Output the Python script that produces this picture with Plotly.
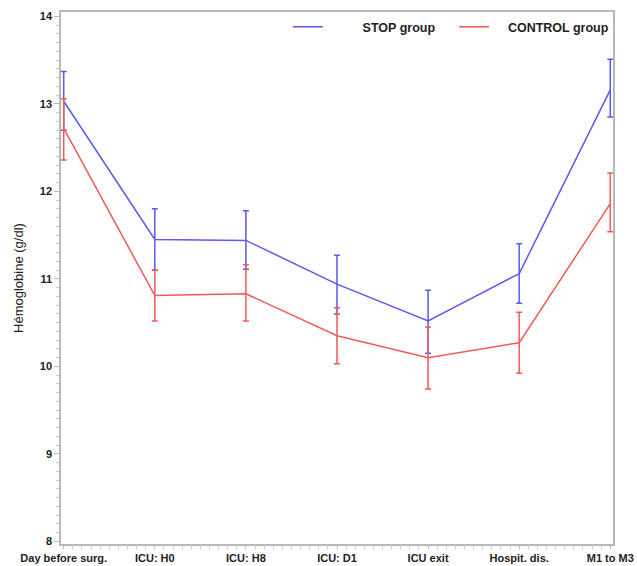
import plotly.graph_objects as go

categories = ["Day before surg.", "ICU: H0", "ICU: H8", "ICU: D1", "ICU exit", "Hospit. dis.", "M1 to M3"]
stop_mean = [13.03, 11.45, 11.44, 10.94, 10.52, 11.06, 13.16]
stop_upper = [13.37, 11.80, 11.78, 11.27, 10.87, 11.40, 13.51]
stop_lower = [12.70, 11.10, 11.11, 10.60, 10.15, 10.72, 12.85]
ctrl_mean = [12.72, 10.81, 10.83, 10.35, 10.10, 10.27, 11.86]
ctrl_upper = [13.06, 11.10, 11.16, 10.67, 10.45, 10.62, 12.21]
ctrl_lower = [12.36, 10.52, 10.52, 10.03, 9.74, 9.92, 11.54]

xpos = list(range(len(categories)))
NB = "\u00a0"

def series(name, mean, up, lo, color):
    return go.Scatter(
        x=xpos, y=mean, mode="lines", name=name,
        line=dict(color=color, width=1.5),
        error_y=dict(type="data", symmetric=False,
                     array=[u - m for u, m in zip(up, mean)],
                     arrayminus=[m - l for m, l in zip(mean, lo)],
                     color=color, thickness=1.5, width=3),
    )

fig = go.Figure()
fig.add_trace(series(NB * 10 + "<b>STOP group</b>" + NB * 4, stop_mean, stop_upper, stop_lower, "#5a5af0"))
fig.add_trace(series(NB * 4 + "<b>CONTROL group</b>", ctrl_mean, ctrl_upper, ctrl_lower, "#f05a5a"))

axis_common = dict(
    showgrid=False, zeroline=False, showline=True, linecolor="#b8b8b8", linewidth=1.5,
    mirror=True, ticks="outside", tickcolor="#b8b8b8", automargin=False,
    tickfont=dict(family="Liberation Sans", size=11, color="#222222", weight="bold"),
)

fig.update_layout(
    width=637, height=566,
    margin=dict(l=61, r=24, t=12, b=22),
    paper_bgcolor="white", plot_bgcolor="white",
    font=dict(family="Liberation Sans", size=11, color="#222222"),
    showlegend=True,
    legend=dict(orientation="h", x=0.411, y=1.0, xanchor="left", yanchor="top",
                bgcolor="rgba(0,0,0,0)", font=dict(size=12.5, family="Liberation Sans", color="#222222"),
                itemwidth=30, tracegroupgap=0),
    xaxis=dict(**axis_common, ticklen=3, range=[-0.03, 6.03], tickmode="array",
               tickvals=xpos, ticktext=categories,
               minor=dict(dtick=0.1, ticks="outside", ticklen=3, tickcolor="#c8c8c8")),
    yaxis=dict(**axis_common, ticklen=5, range=[7.97, 14.05], dtick=1,
               title=dict(text="Hémoglobine (g/dl)", font=dict(size=13, family="Liberation Sans"), standoff=13),
               minor=dict(dtick=0.1, ticks="outside", ticklen=3, tickcolor="#c8c8c8")),
)

fig.write_html("out.html", config={"displayModeBar": False},
               post_script="document.body.style.margin='0';document.body.style.overflow='hidden';")
